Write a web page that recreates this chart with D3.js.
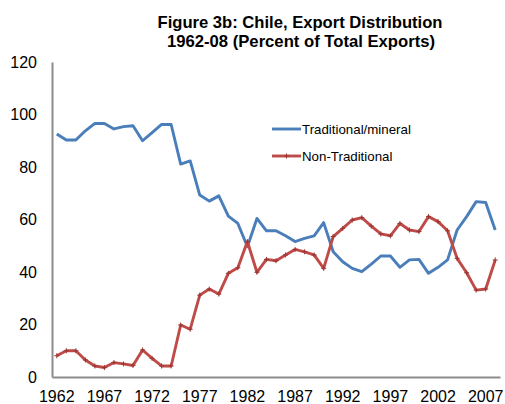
<!DOCTYPE html>
<html>
<head>
<meta charset="utf-8">
<script src="https://cdn.jsdelivr.net/npm/d3@7"></script>
<style>
  body { margin: 0; background: #fff; }
  text { font-family: "Liberation Sans", Arial, sans-serif; fill: #000; }
</style>
</head>
<body>
<script>
// years on the category axis
const years = [1962,1963,1964,1965,1966,1967,1968,1969,1970,1971,1972,1973,1974,1975,1976,1977,
  1978,1979,1980,1981,1982,1983,1984,1985,1986,1987,1988,1989,1990,1991,1992,1993,1994,1995,
  1996,1997,1998,1999,2000,2001,2002,2003,2004,2005,2006,2007,2008];

// percent of total exports
const traditional = [92.6,90.3,90.3,93.8,96.6,96.6,94.5,95.4,95.7,90.0,93.1,96.2,96.2,81.1,82.3,69.3,
  67.0,69.0,61.3,58.5,49.6,60.4,55.7,55.7,53.8,51.6,52.8,53.8,58.8,47.7,43.9,41.4,40.1,43.0,
  46.1,46.1,41.8,44.6,44.8,39.5,41.8,44.6,56.0,61.1,66.8,66.5,56.0];
const nonTraditional = [8.1,10.0,10.0,6.5,4.2,3.6,5.5,5.0,4.4,10.3,7.1,4.2,4.2,19.8,18.2,31.2,
  33.5,31.6,39.5,41.6,51.6,39.9,44.8,44.3,46.5,48.6,47.7,46.5,41.4,53.5,56.6,59.8,60.7,57.5,
  54.5,53.8,58.5,56.0,55.4,61.1,59.2,55.7,45.2,39.7,33.1,33.5,44.6];

const yTicks = [0,20,40,60,80,100,120];
const xTicks = [1962,1967,1972,1977,1982,1987,1992,1997,2002,2007];

const W = 505, H = 404;
const margin = {left: 52, right: 5, top: 62, bottom: 27};

const svg = d3.select("body").append("svg")
  .attr("width", W)
  .attr("height", H);

const x = d3.scaleBand().domain(years).range([margin.left, W - margin.right]).padding(0);
const y = d3.scaleLinear().domain([0, 120]).range([H - margin.bottom, margin.top]);
const cx = d => x(d) + x.bandwidth() / 2;

// title
const title = svg.append("g").attr("font-weight", "bold").attr("font-size", "17px").attr("text-anchor", "middle");
title.append("text").attr("x", 300).attr("y", 28)
  .attr("textLength", 285).attr("lengthAdjust", "spacingAndGlyphs")
  .text("Figure 3b: Chile, Export Distribution");
title.append("text").attr("x", 301).attr("y", 46.5)
  .attr("textLength", 268).attr("lengthAdjust", "spacingAndGlyphs")
  .text("1962-08 (Percent of Total Exports)");

// y axis
const yAxis = svg.append("g")
  .attr("transform", `translate(${margin.left},0)`)
  .call(d3.axisLeft(y).tickValues(yTicks).tickSize(0).tickPadding(15));
yAxis.selectAll("text").style("font-size", "16px").attr("font-family", null);

// x axis
const xAxis = svg.append("g")
  .attr("transform", `translate(0,${H - margin.bottom})`)
  .call(d3.axisBottom(x).tickValues(xTicks).tickSize(0).tickSizeOuter(0).tickPadding(14));
xAxis.selectAll("text").style("font-size", "16px");

svg.selectAll(".domain").attr("stroke", "#8c8c8c").attr("stroke-width", 2);

// lines
const line = d3.line().x((d, i) => cx(years[i])).y(d => y(d));

svg.append("path")
  .datum(traditional)
  .attr("fill", "none")
  .attr("stroke", "#4a7ebb")
  .attr("stroke-width", 2.9)
  .attr("stroke-linejoin", "round")
  .attr("d", line);

svg.append("path")
  .datum(nonTraditional)
  .attr("fill", "none")
  .attr("stroke", "#be4b48")
  .attr("stroke-width", 2.9)
  .attr("stroke-linejoin", "round")
  .attr("d", line);

const plus = "M-2.5,0H2.5M0,-2.5V2.5";
svg.selectAll(".mark")
  .data(nonTraditional)
  .enter().append("path")
  .attr("class", "mark")
  .attr("transform", (d, i) => `translate(${cx(years[i])},${y(d)})`)
  .attr("d", plus)
  .attr("stroke", "#9a3633")
  .attr("stroke-width", 1);

// legend
const legend = [
  {text: "Traditional/mineral", color: "#4a7ebb", mark: false},
  {text: "Non-Traditional", color: "#be4b48", mark: true}
];
const lg = svg.selectAll(".legend")
  .data(legend)
  .enter().append("g")
  .attr("class", "legend")
  .attr("transform", (d, i) => `translate(272,${129 + i * 27})`);

lg.append("line")
  .attr("x1", 0).attr("x2", 29)
  .attr("stroke", d => d.color)
  .attr("stroke-width", 2.9);
lg.filter(d => d.mark).append("path")
  .attr("transform", "translate(14.5,0)")
  .attr("d", plus)
  .attr("stroke", "#9a3633")
  .attr("stroke-width", 1);
lg.append("text")
  .attr("x", 30)
  .attr("y", 4.7)
  .style("font-size", "13.3px")
  .text(d => d.text);
</script>
</body>
</html>
